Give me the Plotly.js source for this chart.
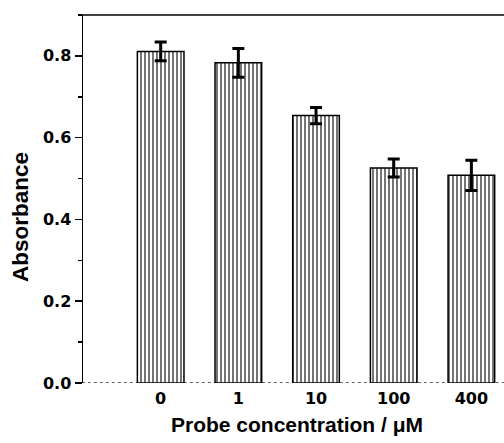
<!DOCTYPE html>
<html>
<head>
<meta charset="utf-8">
<script src="https://cdn.plot.ly/plotly-3.0.1.min.js"></script>
<style>html,body{margin:0;padding:0;overflow:hidden;background:#fff;}</style>
</head>
<body>
<div id="chart" style="width:504px;height:443px;"></div>
<script>
const categories = ["0", "1", "10", "100", "400"];
const absorbance = [0.811, 0.783, 0.654, 0.526, 0.508];
const errors = [0.023, 0.035, 0.020, 0.022, 0.037];
const yTitle = "Absorbance";
const xTitle = "Probe concentration / \u03bcM";

const font = {family: "Liberation Sans, Arial, sans-serif", color: "#000", weight: 700};
const tickFont = {family: "DejaVu Sans, sans-serif", color: "#000", weight: 700, size: 16};

const trace = {
  type: "bar",
  x: categories,
  y: absorbance,
  width: 0.6,
  marker: {
    color: "#fff",
    line: {color: "#000", width: 1.5},
    pattern: {shape: "|", bgcolor: "#fff", fgcolor: "#666", size: 4, solidity: 0.45}
  },
  error_y: {type: "data", array: errors, visible: true, color: "#000", thickness: 3, width: 6},
  hoverinfo: "skip"
};

const layout = {
  width: 504, height: 443,
  margin: {l: 83, r: 0, t: 15, b: 59.5},
  paper_bgcolor: "#fff", plot_bgcolor: "#fff",
  showlegend: false,
  xaxis: {
    type: "category",
    range: [-1, 4.42],
    showline: false, showgrid: false, zeroline: false,
    ticks: "",
    tickfont: tickFont,
    ticklabelstandoff: 4
  },
  yaxis: {
    range: [0, 0.9],
    dtick: 0.2, tick0: 0,
    tickformat: ".1f",
    showline: true, linecolor: "#000", linewidth: 1.5,
    ticks: "outside", ticklen: 7, tickwidth: 1.5, tickcolor: "#000",
    minor: {ticks: "outside", ticklen: 4, tickwidth: 1.5, tickcolor: "#000", dtick: 0.1, showgrid: false},
    showgrid: false, zeroline: false,
    tickfont: tickFont
  },
  shapes: [
    {type: "line", xref: "paper", yref: "y", x0: -0.017, x1: 1, y0: 0, y1: 0,
     line: {color: "#333", width: 1.5, dash: "dot"}, layer: "below"},
    {type: "line", xref: "paper", yref: "paper", x0: -0.007, x1: 1, y0: 1, y1: 1,
     line: {color: "#000", width: 1.5}}
  ],
  annotations: [
    {text: yTitle, xref: "paper", yref: "paper", x: -0.1485, y: 0.4526,
     xanchor: "center", yanchor: "middle", textangle: -90, showarrow: false,
     font: Object.assign({size: 22.5}, font)},
    {text: xTitle, xref: "paper", yref: "paper", x: 0.508, y: -0.1126,
     xanchor: "center", yanchor: "middle", showarrow: false,
     font: Object.assign({size: 21}, font)}
  ]
};

Plotly.newPlot("chart", [trace], layout, {displayModeBar: false, staticPlot: true});
</script>
</body>
</html>
